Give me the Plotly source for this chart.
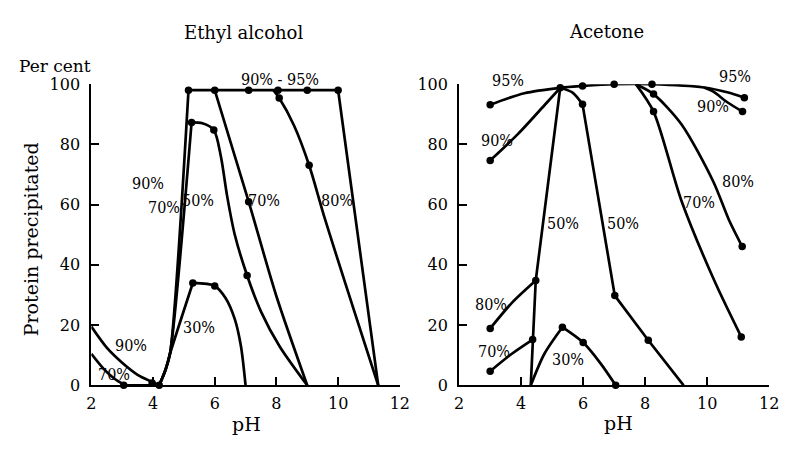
import plotly.graph_objects as go

# ---------------- data ----------------
# Ethyl alcohol panel: curve segments (pH, % protein precipitated)
eth_90_low_x = [2.0, 2.5, 3.0, 3.5, 4.0, 4.2]
eth_90_low_y = [19.5, 12.5, 7.5, 3.5, 1.0, 0.0]
eth_70_low_x = [2.0, 2.4, 2.75, 3.05]
eth_70_low_y = [10.5, 5.5, 2.2, 0.3]
eth_zero_x = [3.05, 4.2]
eth_zero_y = [0.0, 0.0]
eth_rise90_x = [4.2, 4.4, 4.55, 5.15]
eth_rise90_y = [0.0, 5.0, 10.5, 98.0]
eth_top_x = [5.15, 10.0, 11.3]
eth_top_y = [98.0, 98.0, 0.0]
eth_rise50_x = [4.2, 4.4, 4.55, 5.25]
eth_rise50_y = [0.0, 5.0, 10.5, 87.3]
eth_50_x = [5.25, 5.6, 5.97, 6.2, 6.4, 6.65, 7.05, 7.5, 8.1, 9.0]
eth_50_y = [87.3, 87.0, 84.8, 76.0, 63.0, 50.0, 36.5, 24.5, 13.0, 0.0]
eth_70_x = [6.0, 7.1, 8.0, 9.0]
eth_70_y = [98.0, 61.0, 29.6, 0.0]
eth_rise30_x = [4.2, 4.4, 4.55, 5.29]
eth_rise30_y = [0.0, 5.0, 10.5, 34.0]
eth_30_x = [5.29, 6.0, 6.35, 6.65, 6.85, 7.0]
eth_30_y = [34.0, 33.0, 29.0, 22.0, 13.0, 0.0]
eth_80_x = [7.9, 8.09, 8.57, 9.06, 9.58, 11.3]
eth_80_y = [98.0, 95.4, 86.3, 73.1, 55.0, 0.0]
# measured points (dots)
eth_pts_x = [5.15, 6.0, 7.1, 8.05, 9.0, 10.0, 8.09, 9.06, 7.1, 5.25, 5.97, 7.05,
             5.29, 6.0, 3.05, 3.97, 4.2]
eth_pts_y = [98, 98, 98, 98, 98, 98, 95.4, 73.1, 61, 87.3, 84.8, 36.5,
             34, 33, 0, 0.8, 0]

# Acetone panel
ace_95_x = [3.0, 4.1, 5.26, 5.98, 7.0, 8.22, 9.9, 10.65, 11.2]
ace_95_y = [93.2, 97.0, 98.8, 99.4, 100.0, 100.0, 98.9, 97.3, 95.5]
ace_90l_x = [3.0, 3.9, 4.75, 5.26]
ace_90l_y = [74.7, 83.5, 93.0, 98.8]
ace_90r_x = [9.9, 10.2, 10.65, 11.14]
ace_90r_y = [98.9, 97.5, 94.0, 90.9]
ace_50rise_x = [4.31, 4.37, 4.47, 5.26]
ace_50rise_y = [0.0, 15.2, 34.8, 98.8]
ace_50cap_x = [5.26, 5.66, 5.98]
ace_50cap_y = [98.8, 97.2, 93.3]
ace_50_x = [5.98, 7.02, 8.1, 9.24]
ace_50_y = [93.3, 29.8, 15.0, 0.0]
ace_30rise_x = [4.31, 4.75, 5.33]
ace_30rise_y = [0.0, 10.5, 19.3]
ace_30_x = [5.33, 6.0, 6.56, 7.05]
ace_30_y = [19.3, 14.2, 7.3, 0.0]
ace_80l_x = [3.0, 3.7, 4.47]
ace_80l_y = [18.9, 27.4, 34.8]
ace_70l_x = [3.0, 3.7, 4.37]
ace_70l_y = [4.7, 10.5, 15.2]
ace_80r_x = [7.7, 8.27, 9.17, 10.2, 10.7, 11.13]
ace_80r_y = [100.0, 96.7, 86.7, 67.6, 55.0, 46.1]
ace_70r_x = [7.7, 8.27, 9.17, 10.23, 11.1]
ace_70r_y = [100.0, 90.9, 61.3, 34.8, 16.1]
ace_pts_x = [3.0, 5.26, 5.98, 7.0, 8.22, 11.2, 3.0, 11.14, 3.0, 4.47, 8.27, 11.13,
             3.0, 4.37, 8.27, 11.1, 5.98, 7.02, 8.1, 5.33, 6.0, 7.05]
ace_pts_y = [93.2, 98.8, 99.4, 100, 100, 95.5, 74.7, 90.9, 18.9, 34.8, 96.7, 46.1,
             4.7, 15.2, 90.9, 16.1, 93.3, 29.8, 15.0, 19.3, 14.2, 0]

# curve labels
eth_labels = ["90% - 95%", "90%", "70%", "50%", "70%", "80%", "30%", "90%", "70%"]
eth_lab_x = [8.1, 3.84, 4.35, 5.47, 7.6, 9.95, 5.5, 3.3, 2.72]
eth_lab_y = [101.5, 66.9, 59.2, 61.5, 61.5, 61.5, 19.1, 13.4, 3.6]
ace_labels = ["95%", "90%", "95%", "90%", "80%", "70%", "50%", "50%", "80%", "70%", "30%"]
ace_lab_x = [3.57, 3.23, 10.9, 10.2, 11.0, 9.75, 5.35, 7.28, 3.04, 3.12, 5.51]
ace_lab_y = [101.1, 81.3, 102.5, 92.5, 67.6, 60.6, 53.8, 53.8, 27.0, 11.1, 8.6]

x_ticks = [2, 4, 6, 8, 10, 12]
y_ticks = [0, 20, 40, 60, 80, 100]

# ---------------- figure ----------------
FONT = "DejaVu Serif, serif"
FONT_C = "DejaVu Serif Condensed, DejaVu Serif, serif"
LW = 2.7
fig = go.Figure()

def seg(x, y, ax, shape):
    fig.add_trace(go.Scatter(
        x=x, y=y, mode="lines", xaxis=ax[0], yaxis=ax[1],
        line=dict(color="black", width=LW, shape=shape, smoothing=0.8),
        cliponaxis=False, hoverinfo="skip", showlegend=False))

L = ("x", "y")
R = ("x2", "y2")
seg(eth_90_low_x, eth_90_low_y, L, "spline")
seg(eth_70_low_x, eth_70_low_y, L, "spline")
seg(eth_zero_x, eth_zero_y, L, "linear")
seg(eth_rise90_x, eth_rise90_y, L, "spline")
seg(eth_top_x, eth_top_y, L, "linear")
seg(eth_rise50_x, eth_rise50_y, L, "spline")
seg(eth_50_x, eth_50_y, L, "spline")
seg(eth_70_x, eth_70_y, L, "spline")
seg(eth_rise30_x, eth_rise30_y, L, "spline")
seg(eth_30_x, eth_30_y, L, "spline")
seg(eth_80_x, eth_80_y, L, "spline")

seg(ace_95_x, ace_95_y, R, "spline")
seg(ace_90l_x, ace_90l_y, R, "spline")
seg(ace_90r_x, ace_90r_y, R, "spline")
seg(ace_50rise_x, ace_50rise_y, R, "linear")
seg(ace_50cap_x, ace_50cap_y, R, "spline")
seg(ace_50_x, ace_50_y, R, "linear")
seg(ace_30rise_x, ace_30rise_y, R, "spline")
seg(ace_30_x, ace_30_y, R, "spline")
seg(ace_80l_x, ace_80l_y, R, "spline")
seg(ace_70l_x, ace_70l_y, R, "spline")
seg(ace_80r_x, ace_80r_y, R, "spline")
seg(ace_70r_x, ace_70r_y, R, "spline")

for px_, py_, ax in [(eth_pts_x, eth_pts_y, L), (ace_pts_x, ace_pts_y, R)]:
    fig.add_trace(go.Scatter(
        x=px_, y=py_, mode="markers", xaxis=ax[0], yaxis=ax[1],
        marker=dict(color="black", size=7.5), cliponaxis=False,
        hoverinfo="skip", showlegend=False))

ann = []
for txt, lx, ly in zip(eth_labels, eth_lab_x, eth_lab_y):
    ann.append(dict(text=txt, x=lx, y=ly / 100, xref="x", yref="y domain",
                    showarrow=False, xanchor="center", yanchor="middle",
                    font=dict(family=FONT_C, size=16, color="black")))
for txt, lx, ly in zip(ace_labels, ace_lab_x, ace_lab_y):
    ann.append(dict(text=txt, x=lx, y=ly / 100, xref="x2", yref="y2 domain",
                    showarrow=False, xanchor="center", yanchor="middle",
                    font=dict(family=FONT_C, size=16, color="black")))

W, H = 787, 449
def px(v):
    return v / W
def py(v):
    return 1 - v / H

def ptext(txt, x, y, size, angle=0):
    return dict(text=txt, x=px(x), y=py(y), xref="paper", yref="paper",
                showarrow=False, xanchor="center", yanchor="middle", textangle=angle,
                font=dict(family=FONT, size=size, color="black"))

ann += [
    ptext("Ethyl alcohol", 243, 25, 18),
    ptext("Acetone", 613, 23, 18),
    ptext("pH", 246, 433, 19),
    ptext("pH", 625, 432, 19),
    ptext("Per cent", 51, 60, 17),
    ptext("Protein precipitated", 26, 241, 19, -90),
]

axis_common = dict(range=[2, 12], tickvals=x_ticks, ticks="inside", ticklen=8,
                   tickwidth=1.5, tickcolor="black", showline=True, linecolor="black",
                   linewidth=2, showgrid=False, zeroline=False,
                   ticklabeloverflow="allow", ticklabelstandoff=2,
                   tickfont=dict(family=FONT, size=16, color="black"))
yaxis_common = dict(range=[0, 100], tickvals=y_ticks, ticks="inside", ticklen=8,
                    tickwidth=1.5, tickcolor="black", showline=True, linecolor="black",
                    linewidth=2, showgrid=False, zeroline=False, ticklabelstandoff=6,
                    tickfont=dict(family=FONT, size=16, color="black"))

fig.update_layout(
    width=W, height=H, margin=dict(l=0, r=0, t=0, b=0),
    paper_bgcolor="white", plot_bgcolor="white", showlegend=False,
    xaxis=dict(domain=[88 / W, 402.5 / W], anchor="y", **axis_common),
    yaxis=dict(domain=[(H - 393) / H, (H - 78.5) / H], anchor="x", **yaxis_common),
    xaxis2=dict(domain=[463 / W, 779 / W], anchor="y2", **axis_common),
    yaxis2=dict(domain=[(H - 393) / H, (H - 78.5) / H], anchor="x2", **yaxis_common),
    annotations=ann,
)

fig.write_html("out.html", config={"displayModeBar": False},
               post_script="document.body.style.margin='0';document.body.style.overflow='hidden';")
